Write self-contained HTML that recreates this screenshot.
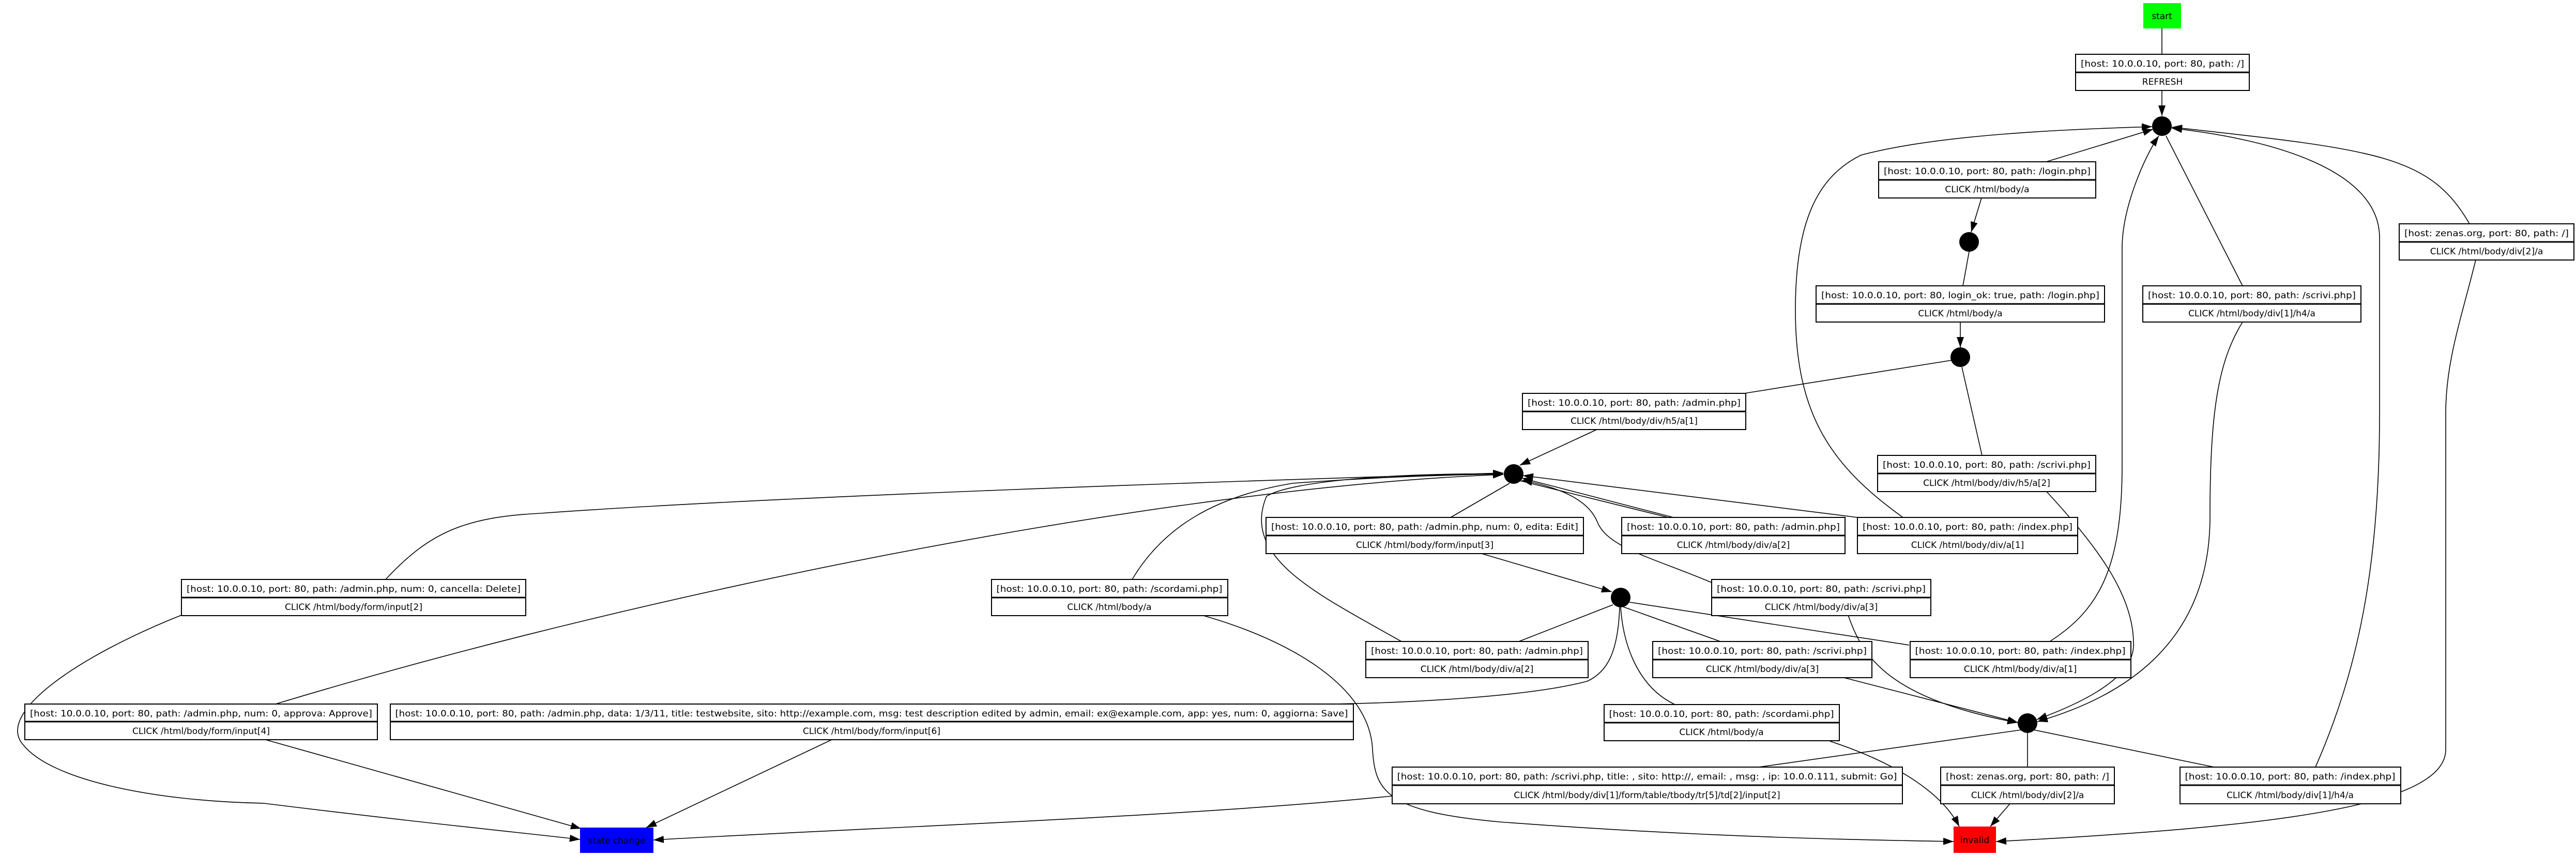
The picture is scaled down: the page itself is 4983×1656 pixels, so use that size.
<!DOCTYPE html>
<html><head><meta charset="utf-8"><style>
html,body{margin:0;padding:0;background:#fff;}
svg{display:block;}
text{font-family:"DejaVu Sans","Liberation Sans",sans-serif;font-size:17px;fill:#000;}
.n rect{fill:#fff;stroke:#000;stroke-width:2;}
.n line{stroke:#000;stroke-width:3;}
path.e{fill:none;stroke:#000;stroke-width:1.6;}
path.a{fill:none;stroke:#000;stroke-width:1.6;marker-end:url(#ar);}
</style></head><body>
<svg width="4983" height="1656" viewBox="0 0 4983 1656" xmlns="http://www.w3.org/2000/svg">
<defs><marker id="ar" markerUnits="userSpaceOnUse" markerWidth="22" markerHeight="14" refX="20" refY="7" orient="auto"><path d="M0,0 L20,7 L0,14 Z" fill="#000"/></marker></defs>

<!-- edges -->
<path class="e" d="M4182,55 L4182,105"/>
<path class="a" d="M4182,175 L4182,224"/>
<path class="a" d="M3958,313 L4165,250"/>
<path class="a" d="M3833,383 L3813,449"/>
<path class="a" d="M3681,1001 C3540,900 3473,800 3473,600 C3473,420 3520,340 3600,300 C3750,260 4000,250 4163,245"/>
<path class="e" d="M4190,263 L4338,553"/>
<path class="a" d="M4777,433 C4700,300 4600,290 4201,246"/>
<path class="a" d="M4479,1484 C4560,1300 4603,1100 4603,800 L4603,460 C4603,330 4400,270 4201,248"/>
<path class="a" d="M3965,1241 C4060,1180 4105,1100 4105,900 L4105,480 C4105,400 4150,300 4176,263"/>
<path class="a" d="M4338,623 C4290,700 4275,800 4275,1000 C4275,1250 4100,1350 3941,1396"/>
<path class="a" d="M3958,950 C4050,1050 4130,1150 4127,1250 C4125,1320 4000,1370 3940,1392"/>
<path class="e" d="M3809,487 L3797,553"/>
<path class="a" d="M3792,623 L3792,672"/>
<path class="e" d="M3775,697 L3374,761"/>
<path class="e" d="M3795,710 L3834,881"/>
<path class="a" d="M3091,830 L2940,900"/>
<path class="e" d="M2920,935 L2806,1001"/>
<path class="a" d="M2866,1071 L3118,1145"/>
<path class="a" d="M3237,1001 L2944,925"/>
<path class="e" d="M3227,1001 L2940,930"/>
<path class="a" d="M3593,1001 L2946,920"/>
<path class="a" d="M3311,1127 C3200,1080 3110,1060 3090,1010 C3070,960 3000,940 2944,929"/>
<path class="a" d="M3575,1190 C3600,1260 3640,1350 3903,1398"/>
<path class="e" d="M3120,1170 L2938,1241"/>
<path class="a" d="M2711,1241 C2550,1150 2400,1080 2450,960 C2500,930 2700,915 2908,917"/>
<path class="e" d="M3140,1174 L3328,1241"/>
<path class="e" d="M3152,1165 L3693,1248"/>
<path class="a" d="M3563,1310 L3904,1398"/>
<path class="e" d="M3135,1175 C3140,1250 3170,1330 3240,1363"/>
<path class="e" d="M3133,1175 C3130,1260 3110,1300 3070,1318 C2950,1350 2700,1360 2580,1362"/>
<path class="a" d="M1611,1430 L1250,1601"/>
<path class="a" d="M510,1430 L1124,1603"/>
<path class="a" d="M533,1362 C1300,1130 2300,940 2908,918"/>
<path class="a" d="M746,1121 C830,1030 900,1000 1046,993 C1500,960 2400,930 2908,915"/>
<path class="a" d="M351,1190 C150,1270 -10,1380 45,1441 C100,1510 300,1550 510,1554 C800,1590 1000,1610 1122,1624"/>
<path class="a" d="M2693,1540 C2300,1580 1700,1600 1264,1625"/>
<path class="e" d="M3910,1412 L3402,1484"/>
<path class="e" d="M3922,1418 L3922,1484"/>
<path class="e" d="M3934,1412 L4283,1484"/>
<path class="a" d="M3888,1555 L3850,1599"/>
<path class="a" d="M3540,1434 C3680,1480 3760,1540 3790,1599"/>
<path class="a" d="M2190,1121 C2250,1020 2350,960 2500,935 C2700,920 2850,918 2908,917"/>
<path class="a" d="M2328,1191 C2500,1240 2650,1330 2655,1450 C2660,1530 2680,1570 2900,1590 C3300,1620 3600,1625 3779,1628"/>
<path class="a" d="M4789,503 C4760,620 4731,700 4731,800 L4731,1450 C4731,1560 4400,1600 3861,1628"/>

<!-- dots -->
<circle cx="4182" cy="244" r="19"/>
<circle cx="3809" cy="468" r="19"/>
<circle cx="3792" cy="691" r="19"/>
<circle cx="2928" cy="917" r="19"/>
<circle cx="3135" cy="1156" r="19"/>
<circle cx="3922" cy="1399" r="19"/>

<!-- terminals -->
<rect x="4146" y="6" width="73" height="49" fill="#00ff00"/>
<text x="4182" y="37" text-anchor="middle">start</text>
<rect x="1122" y="1601" width="142" height="49" fill="#0000ff"/>
<text x="1193" y="1632" text-anchor="middle">state change</text>
<rect x="3779" y="1599" width="82" height="51" fill="#ff0000"/>
<text x="3820" y="1631" text-anchor="middle">invalid</text>

<!-- record nodes -->
<g class="n"><rect x="4015" y="105" width="336" height="70"/><line x1="4015" y1="140" x2="4351" y2="140"/>
<text x="4183" y="129" text-anchor="middle" textLength="316" lengthAdjust="spacingAndGlyphs">[host: 10.0.0.10, port: 80, path: /]</text><text x="4183" y="164" text-anchor="middle">REFRESH</text></g>

<g class="n"><rect x="3634" y="313" width="420" height="70"/><line x1="3634" y1="348" x2="4054" y2="348"/>
<text x="3844" y="337" text-anchor="middle" textLength="400" lengthAdjust="spacingAndGlyphs">[host: 10.0.0.10, port: 80, path: /login.php]</text><text x="3844" y="372" text-anchor="middle">CLICK /html/body/a</text></g>

<g class="n"><rect x="4641" y="433" width="338" height="70"/><line x1="4641" y1="468" x2="4979" y2="468"/>
<text x="4810" y="457" text-anchor="middle" textLength="318" lengthAdjust="spacingAndGlyphs">[host: zenas.org, port: 80, path: /]</text><text x="4810" y="492" text-anchor="middle">CLICK /html/body/div[2]/a</text></g>

<g class="n"><rect x="3513" y="553" width="558" height="70"/><line x1="3513" y1="588" x2="4071" y2="588"/>
<text x="3792" y="577" text-anchor="middle" textLength="538" lengthAdjust="spacingAndGlyphs">[host: 10.0.0.10, port: 80, login_ok: true, path: /login.php]</text><text x="3792" y="612" text-anchor="middle">CLICK /html/body/a</text></g>

<g class="n"><rect x="4145" y="553" width="422" height="70"/><line x1="4145" y1="588" x2="4567" y2="588"/>
<text x="4356" y="577" text-anchor="middle" textLength="402" lengthAdjust="spacingAndGlyphs">[host: 10.0.0.10, port: 80, path: /scrivi.php]</text><text x="4356" y="612" text-anchor="middle">CLICK /html/body/div[1]/h4/a</text></g>

<g class="n"><rect x="2945" y="761" width="432" height="70"/><line x1="2945" y1="796" x2="3377" y2="796"/>
<text x="3161" y="785" text-anchor="middle" textLength="412" lengthAdjust="spacingAndGlyphs">[host: 10.0.0.10, port: 80, path: /admin.php]</text><text x="3161" y="820" text-anchor="middle">CLICK /html/body/div/h5/a[1]</text></g>

<g class="n"><rect x="3632" y="881" width="422" height="70"/><line x1="3632" y1="916" x2="4054" y2="916"/>
<text x="3843" y="905" text-anchor="middle" textLength="402" lengthAdjust="spacingAndGlyphs">[host: 10.0.0.10, port: 80, path: /scrivi.php]</text><text x="3843" y="940" text-anchor="middle">CLICK /html/body/div/h5/a[2]</text></g>

<g class="n"><rect x="2449" y="1001" width="614" height="70"/><line x1="2449" y1="1036" x2="3063" y2="1036"/>
<text x="2756" y="1025" text-anchor="middle" textLength="594" lengthAdjust="spacingAndGlyphs">[host: 10.0.0.10, port: 80, path: /admin.php, num: 0, edita: Edit]</text><text x="2756" y="1060" text-anchor="middle">CLICK /html/body/form/input[3]</text></g>

<g class="n"><rect x="3137" y="1001" width="432" height="70"/><line x1="3137" y1="1036" x2="3569" y2="1036"/>
<text x="3353" y="1025" text-anchor="middle" textLength="412" lengthAdjust="spacingAndGlyphs">[host: 10.0.0.10, port: 80, path: /admin.php]</text><text x="3353" y="1060" text-anchor="middle">CLICK /html/body/div/a[2]</text></g>

<g class="n"><rect x="3593" y="1001" width="426" height="70"/><line x1="3593" y1="1036" x2="4019" y2="1036"/>
<text x="3806" y="1025" text-anchor="middle" textLength="406" lengthAdjust="spacingAndGlyphs">[host: 10.0.0.10, port: 80, path: /index.php]</text><text x="3806" y="1060" text-anchor="middle">CLICK /html/body/div/a[1]</text></g>

<g class="n"><rect x="351" y="1121" width="666" height="70"/><line x1="351" y1="1156" x2="1017" y2="1156"/>
<text x="684" y="1145" text-anchor="middle" textLength="646" lengthAdjust="spacingAndGlyphs">[host: 10.0.0.10, port: 80, path: /admin.php, num: 0, cancella: Delete]</text><text x="684" y="1180" text-anchor="middle">CLICK /html/body/form/input[2]</text></g>

<g class="n"><rect x="1918" y="1121" width="457" height="70"/><line x1="1918" y1="1156" x2="2375" y2="1156"/>
<text x="2146" y="1145" text-anchor="middle" textLength="437" lengthAdjust="spacingAndGlyphs">[host: 10.0.0.10, port: 80, path: /scordami.php]</text><text x="2146" y="1180" text-anchor="middle">CLICK /html/body/a</text></g>

<g class="n"><rect x="3311" y="1121" width="424" height="70"/><line x1="3311" y1="1156" x2="3735" y2="1156"/>
<text x="3523" y="1145" text-anchor="middle" textLength="404" lengthAdjust="spacingAndGlyphs">[host: 10.0.0.10, port: 80, path: /scrivi.php]</text><text x="3523" y="1180" text-anchor="middle">CLICK /html/body/div/a[3]</text></g>

<g class="n"><rect x="2642" y="1241" width="430" height="70"/><line x1="2642" y1="1276" x2="3072" y2="1276"/>
<text x="2857" y="1265" text-anchor="middle" textLength="410" lengthAdjust="spacingAndGlyphs">[host: 10.0.0.10, port: 80, path: /admin.php]</text><text x="2857" y="1300" text-anchor="middle">CLICK /html/body/div/a[2]</text></g>

<g class="n"><rect x="3197" y="1241" width="424" height="70"/><line x1="3197" y1="1276" x2="3621" y2="1276"/>
<text x="3409" y="1265" text-anchor="middle" textLength="404" lengthAdjust="spacingAndGlyphs">[host: 10.0.0.10, port: 80, path: /scrivi.php]</text><text x="3409" y="1300" text-anchor="middle">CLICK /html/body/div/a[3]</text></g>

<g class="n"><rect x="3695" y="1241" width="427" height="70"/><line x1="3695" y1="1276" x2="4122" y2="1276"/>
<text x="3908" y="1265" text-anchor="middle" textLength="407" lengthAdjust="spacingAndGlyphs">[host: 10.0.0.10, port: 80, path: /index.php]</text><text x="3908" y="1300" text-anchor="middle">CLICK /html/body/div/a[1]</text></g>

<g class="n"><rect x="48" y="1362" width="682" height="69"/><line x1="48" y1="1396" x2="730" y2="1396"/>
<text x="389" y="1386" text-anchor="middle" textLength="662" lengthAdjust="spacingAndGlyphs">[host: 10.0.0.10, port: 80, path: /admin.php, num: 0, approva: Approve]</text><text x="389" y="1420" text-anchor="middle">CLICK /html/body/form/input[4]</text></g>

<g class="n"><rect x="755" y="1362" width="1863" height="69"/><line x1="755" y1="1396" x2="2618" y2="1396"/>
<text x="1686" y="1386" text-anchor="middle" textLength="1843" lengthAdjust="spacingAndGlyphs">[host: 10.0.0.10, port: 80, path: /admin.php, data: 1/3/11, title: testwebsite, sito: http://example.com, msg: test description edited by admin, email: ex@example.com, app: yes, num: 0, aggiorna: Save]</text><text x="1686" y="1420" text-anchor="middle">CLICK /html/body/form/input[6]</text></g>

<g class="n"><rect x="3103" y="1363" width="455" height="70"/><line x1="3103" y1="1398" x2="3558" y2="1398"/>
<text x="3330" y="1387" text-anchor="middle" textLength="435" lengthAdjust="spacingAndGlyphs">[host: 10.0.0.10, port: 80, path: /scordami.php]</text><text x="3330" y="1422" text-anchor="middle">CLICK /html/body/a</text></g>

<g class="n"><rect x="2693" y="1484" width="987" height="71"/><line x1="2693" y1="1519" x2="3680" y2="1519"/>
<text x="3186" y="1508" text-anchor="middle" textLength="967" lengthAdjust="spacingAndGlyphs">[host: 10.0.0.10, port: 80, path: /scrivi.php, title: , sito: http://, email: , msg: , ip: 10.0.0.111, submit: Go]</text><text x="3186" y="1544" text-anchor="middle">CLICK /html/body/div[1]/form/table/tbody/tr[5]/td[2]/input[2]</text></g>

<g class="n"><rect x="3754" y="1484" width="336" height="71"/><line x1="3754" y1="1519" x2="4090" y2="1519"/>
<text x="3922" y="1508" text-anchor="middle" textLength="316" lengthAdjust="spacingAndGlyphs">[host: zenas.org, port: 80, path: /]</text><text x="3922" y="1544" text-anchor="middle">CLICK /html/body/div[2]/a</text></g>

<g class="n"><rect x="4217" y="1484" width="427" height="71"/><line x1="4217" y1="1519" x2="4644" y2="1519"/>
<text x="4430" y="1508" text-anchor="middle" textLength="407" lengthAdjust="spacingAndGlyphs">[host: 10.0.0.10, port: 80, path: /index.php]</text><text x="4430" y="1544" text-anchor="middle">CLICK /html/body/div[1]/h4/a</text></g>
</svg>
</body></html>
